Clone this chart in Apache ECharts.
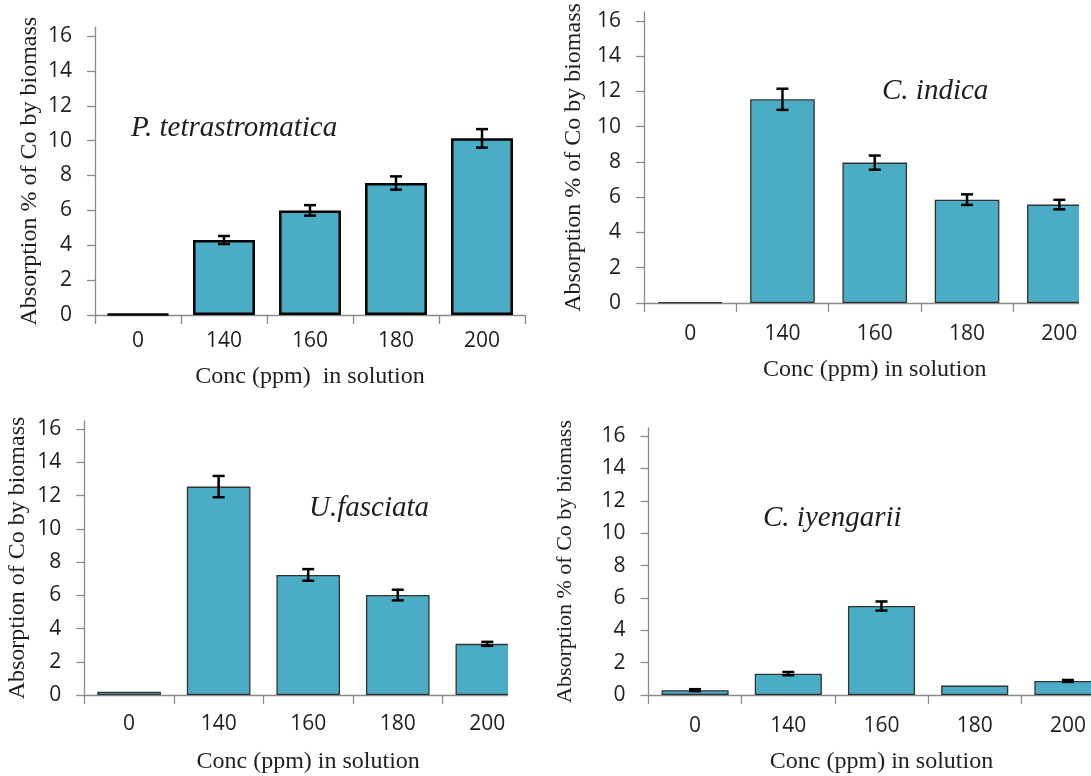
<!DOCTYPE html>
<html>
<head>
<meta charset="utf-8">
<script src="https://cdn.jsdelivr.net/npm/echarts@6/dist/echarts.min.js"></script>
<style>
html,body{margin:0;padding:0;background:#fff;}
#chart{width:1091px;height:776px;}
</style>
</head>
<body>
<div id="chart"></div>
<script>
// ---- data ----
const categories = ['0', '140', '160', '180', '200'];
const yTicks = [0, 2, 4, 6, 8, 10, 12, 14, 16];

const pTetraValues = [0.05, 4.30, 6.00, 7.57, 10.13];
const pTetraErrors = [0, 0.23, 0.30, 0.38, 0.53];

const cIndicaValues = [0.05, 11.55, 7.96, 5.86, 5.58];
const cIndicaErrors = [0, 0.60, 0.40, 0.30, 0.27];

const uFasciataValues = [0.20, 12.55, 7.23, 6.02, 3.08];
const uFasciataErrors = [0, 0.64, 0.35, 0.32, 0.12];

const cIyengariiValues = [0.30, 1.32, 5.50, 0.58, 0.87];
const cIyengariiErrors = [0.06, 0.10, 0.28, 0, 0.06];

const panelTitles = ['P. tetrastromatica', 'C. indica', 'U.fasciata', 'C. iyengarii'];
const xNames = ['Conc (ppm)  in solution', 'Conc (ppm) in solution', 'Conc (ppm) in solution', 'Conc (ppm) in solution'];
const yNames = ['Absorption % of Co by biomass', 'Absorption % of Co by biomass', 'Absorption of Co by biomass', 'Absorption % of Co by biomass'];

// ---- layout / style ----
const BAR_COLOR = '#4BACC6';
const AXIS_COLOR = '#8a8a8a';
const TEXT_COLOR = '#1e1e1e';
const SERIF = '"Liberation Serif", "Times New Roman", serif';
const SANS = '"Open Sans", "Noto Sans", sans-serif';

const panels = [
  {grid: {left: 95, top: 27.3, width: 430, height: 287.7}, values: pTetraValues, errors: pTetraErrors,
   gap: '28%', border: '#000', borderW: 2.5, xLabelMargin: 16, xNameGap: 50, yNameGap: 53, yNameSize: 24,
   title: {x: 131, y: 128}},
  {grid: {left: 644, top: 12, width: 461.5, height: 291}, values: cIndicaValues, errors: cIndicaErrors,
   gap: '30%', border: '#333', borderW: 1.3, xLabelMargin: 21, xNameGap: 55, yNameGap: 58, yNameSize: 24,
   title: {x: 882, y: 91}},
  {grid: {left: 84.3, top: 421, width: 447.8, height: 274}, values: uFasciataValues, errors: uFasciataErrors,
   gap: '29%', border: '#333', borderW: 1.3, xLabelMargin: 19, xNameGap: 55, yNameGap: 55, yNameSize: 24,
   title: {x: 309, y: 508}},
  {grid: {left: 648.5, top: 428, width: 466, height: 267}, values: cIyengariiValues, errors: cIyengariiErrors,
   gap: '28%', border: '#333', borderW: 1.3, xLabelMargin: 21, xNameGap: 55, yNameGap: 72, yNameSize: 22,
   title: {x: 763, y: 518}}
];

const grids = [], xAxes = [], yAxes = [], series = [], graphics = [];

panels.forEach((p, k) => {
  grids.push(Object.assign({outerBoundsMode: 'none', containLabel: false}, p.grid));
  xAxes.push({
    type: 'category', gridIndex: k, data: categories,
    boundaryGap: true,
    axisLine: {lineStyle: {color: AXIS_COLOR, width: 1.3}},
    axisTick: {show: true, alignWithLabel: false, length: 9, lineStyle: {color: AXIS_COLOR, width: 1.3}},
    axisLabel: {margin: p.xLabelMargin, fontSize: 21, fontFamily: SANS, color: TEXT_COLOR},
    splitLine: {show: false},
    name: xNames[k], nameLocation: 'middle', nameGap: p.xNameGap,
    nameTextStyle: {fontFamily: SERIF, fontSize: 24, color: TEXT_COLOR}
  });
  yAxes.push({
    type: 'value', gridIndex: k, min: 0, max: 16.5, interval: 2,
    axisLine: {show: true, lineStyle: {color: AXIS_COLOR, width: 1.3}},
    axisTick: {show: true, length: 8, customValues: yTicks, lineStyle: {color: AXIS_COLOR, width: 1.3}},
    axisLabel: {margin: 23, fontSize: 21, fontFamily: SANS, color: TEXT_COLOR, customValues: yTicks},
    splitLine: {show: false},
    name: yNames[k], nameLocation: 'middle', nameGap: p.yNameGap,
    nameTextStyle: {fontFamily: SERIF, fontSize: p.yNameSize, color: TEXT_COLOR}
  });
  series.push({
    type: 'bar', xAxisIndex: k, yAxisIndex: k, data: p.values,
    barCategoryGap: p.gap,
    itemStyle: {color: BAR_COLOR, borderColor: p.border, borderWidth: p.borderW},
    z: 2
  });
  series.push({
    type: 'custom', xAxisIndex: k, yAxisIndex: k,
    data: p.values.map((v, i) => [i, v, p.errors[i]]),
    z: 5,
    renderItem: function (params, api) {
      const i = api.value(0), v = api.value(1), e = api.value(2);
      if (!e) return null;
      const top = api.coord([i, v + e]);
      const bot = api.coord([i, v - e]);
      const hw = 6;
      const st = {stroke: '#000', lineWidth: 2.5};
      return {
        type: 'group',
        children: [
          {type: 'line', shape: {x1: top[0], y1: top[1], x2: bot[0], y2: bot[1]}, style: st},
          {type: 'line', shape: {x1: top[0] - hw, y1: top[1], x2: top[0] + hw, y2: top[1]}, style: st},
          {type: 'line', shape: {x1: bot[0] - hw, y1: bot[1], x2: bot[0] + hw, y2: bot[1]}, style: st}
        ]
      };
    }
  });
  graphics.push({
    type: 'text', x: p.title.x, y: p.title.y, z: 50,
    style: {text: panelTitles[k], font: 'italic 29px ' + SERIF, fill: TEXT_COLOR,
            verticalAlign: 'middle', textVerticalAlign: 'middle'}
  });
});

// white masks where the reference picture is cropped
graphics.push({type: 'rect', x: 1079, y: 0, z: 100, shape: {width: 20, height: 392}, style: {fill: '#fff'}});
graphics.push({type: 'rect', x: 508, y: 400, z: 100, shape: {width: 37, height: 376}, style: {fill: '#fff'}});

const chart = echarts.init(document.getElementById('chart'), null, {renderer: 'canvas'});
chart.setOption({
  backgroundColor: '#fff',
  animation: false,
  grid: grids,
  xAxis: xAxes,
  yAxis: yAxes,
  series: series,
  graphic: {elements: graphics}
});
</script>
</body>
</html>
